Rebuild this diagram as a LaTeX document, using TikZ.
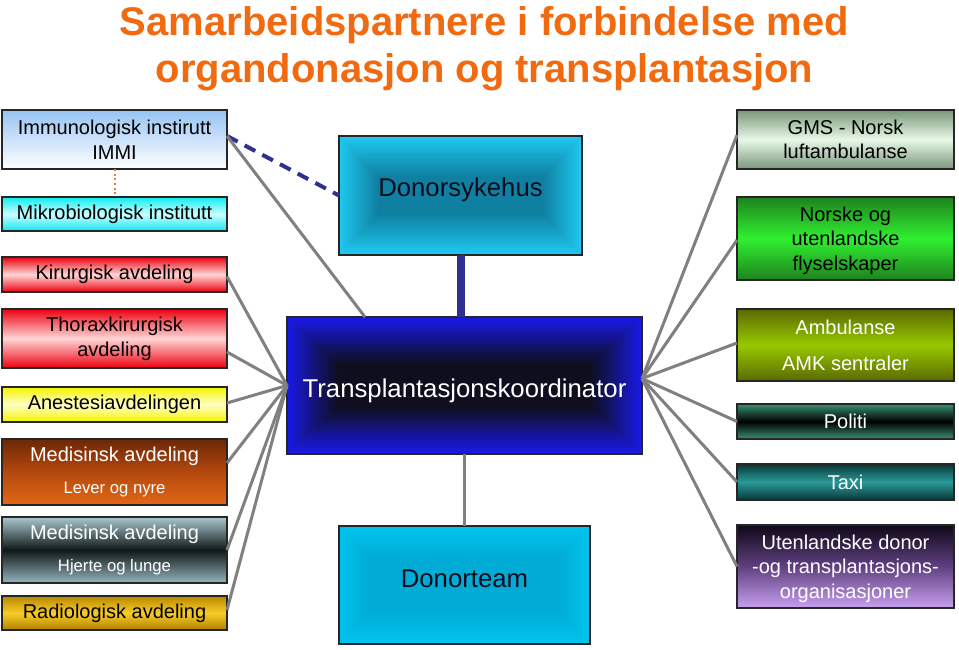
\documentclass[tikz,border=0pt]{standalone}
\usepackage{fontspec}
\setmainfont{Liberation Sans}
\usetikzlibrary{calc}
\definecolor{titleor}{RGB}{242,106,16}
\definecolor{linegray}{RGB}{128,128,128}
\definecolor{navy}{RGB}{48,48,144}
\definecolor{dotor}{RGB}{224,128,64}
\definecolor{dsout}{RGB}{30,200,240}
\definecolor{dsin}{RGB}{16,128,162}
\definecolor{dtout}{RGB}{0,196,238}
\definecolor{dtin}{RGB}{0,172,214}
\definecolor{trout}{RGB}{26,26,230}
\definecolor{trin}{RGB}{14,14,30}
\definecolor{boxtext}{RGB}{12,12,28}
\tikzset{
  nested/.style n args={4}{path picture={
    \foreach \k in {0,...,24}{
      \pgfmathsetmacro\fr{100*\k/24}
      \fill[#4!\fr!#3] ($(path picture bounding box.north west)+(\k*#1/24,\k*#2/24)$)
        rectangle ($(path picture bounding box.south east)-(\k*#1/24,\k*#2/24)$);
    }}},
  sidebox/.style={draw=black!85, line width=0.9pt, inner sep=0pt, outer sep=0pt,
    align=center, font=\fontsize{15}{18.5}\selectfont},
  lbox/.style={sidebox, minimum width=168.75pt},
  rbox/.style={sidebox, minimum width=162.75pt},
  cbox/.style={draw=black!85, line width=0.9pt, inner sep=0pt, outer sep=0pt,
    align=center, font=\fontsize{19.3}{23}\selectfont},
  conn/.style={draw=linegray, line width=2.25pt}
}
\begin{document}
\begin{tikzpicture}[x=0.75pt,y=-0.75pt]
\useasboundingbox (0,0) rectangle (959,649);

% title
\node[text=titleor, inner sep=0pt, align=center,
  font=\fontsize{30}{35.25}\bfseries\selectfont] (title) at (484.5,48.5)
  {Samarbeidspartnere i forbindelse med\\organdonasjon og transplantasjon};

% left column
\node[lbox, minimum height=44.25pt, top color={rgb,255:red,150;green,196;blue,242},
  bottom color=white, middle color={rgb,255:red,204;green,226;blue,250}] (immun) at (114.5,139.5)
  {Immunologisk instirutt\\IMMI};
\node[lbox, minimum height=25.5pt, top color={rgb,255:red,16;green,236;blue,240},
  bottom color={rgb,255:red,16;green,230;blue,240}, middle color={rgb,255:red,200;green,255;blue,255}] (mikro) at (114.5,214)
  {Mikrobiologisk institutt};
\node[lbox, minimum height=26.25pt, top color={rgb,255:red,236;green,0;blue,16},
  bottom color={rgb,255:red,236;green,0;blue,16}, middle color={rgb,255:red,255;green,214;blue,214}] (kir) at (114.5,274.5)
  {Kirurgisk avdeling};
\node[lbox, minimum height=44.25pt, top color={rgb,255:red,236;green,0;blue,16},
  bottom color={rgb,255:red,236;green,0;blue,16}, middle color={rgb,255:red,255;green,214;blue,214}] (thorax) at (114.5,338.5)
  {Thoraxkirurgisk\\avdeling};
\node[lbox, minimum height=26.25pt, top color={rgb,255:red,244;green,244;blue,0},
  bottom color={rgb,255:red,244;green,244;blue,0}, middle color={rgb,255:red,255;green,255;blue,196}] (anest) at (114.5,404.5)
  {Anestesiavdelingen};
\node[lbox, minimum height=49.5pt, text=white, top color={rgb,255:red,108;green,40;blue,6},
  bottom color={rgb,255:red,226;green,104;blue,22}, middle color={rgb,255:red,180;green,72;blue,14}] (medlev) at (114.5,472)
  {Medisinsk avdeling\\[5pt]{\fontsize{12.5}{15}\selectfont Lever og nyre}};
\node[lbox, minimum height=49.5pt, text=white, top color={rgb,255:red,170;green,200;blue,208},
  bottom color={rgb,255:red,150;green,180;blue,190}, middle color={rgb,255:red,16;green,24;blue,24}] (medhj) at (114.5,550)
  {Medisinsk avdeling\\[5pt]{\fontsize{12.5}{15}\selectfont Hjerte og lunge}};
\node[lbox, minimum height=25.5pt, top color={rgb,255:red,184;green,136;blue,0},
  bottom color={rgb,255:red,176;green,128;blue,0}, middle color={rgb,255:red,248;green,204;blue,40}] (radio) at (114.5,613)
  {Radiologisk avdeling};

% right column
\node[rbox, minimum height=44.25pt, top color={rgb,255:red,122;green,150;blue,122},
  bottom color={rgb,255:red,122;green,150;blue,122}, middle color={rgb,255:red,232;green,248;blue,232}] (gms) at (845.5,139.5)
  {GMS - Norsk\\luftambulanse};
\node[rbox, minimum height=62.25pt, text depth=0pt, top color={rgb,255:red,30;green,130;blue,30},
  bottom color={rgb,255:red,30;green,130;blue,30}, middle color={rgb,255:red,48;green,240;blue,48}] (fly) at (845.5,238.5)
  {Norske og\\utenlandske\\flyselskaper};
\node[rbox, minimum height=54pt, text=white, top color={rgb,255:red,90;green,106;blue,0},
  bottom color={rgb,255:red,90;green,106;blue,0}, middle color={rgb,255:red,152;green,200;blue,0}] (amb) at (845.5,345)
  {Ambulanse\\[8.5pt]AMK sentraler};
\node[rbox, minimum height=26.25pt, text=white, top color={rgb,255:red,58;green,144;blue,112},
  bottom color={rgb,255:red,58;green,144;blue,112}, middle color=black] (politi) at (845.5,421.5)
  {Politi};
\node[rbox, minimum height=27pt, text=white, top color={rgb,255:red,10;green,56;blue,56},
  bottom color={rgb,255:red,10;green,56;blue,56}, middle color={rgb,255:red,42;green,152;blue,152}] (taxi) at (845.5,482)
  {Taxi};
\node[rbox, minimum height=62.25pt, text depth=0pt, text=white, top color={rgb,255:red,16;green,8;blue,24},
  bottom color={rgb,255:red,200;green,160;blue,240}, middle color={rgb,255:red,96;green,64;blue,128}] (utl) at (845.5,566.5)
  {Utenlandske donor\\-og transplantasjons-\\organisasjoner};

% centre
\node[cbox, minimum width=182.25pt, minimum height=89.25pt, text=boxtext,
  text height=2.2pt, text depth=0pt,
  nested={38}{40}{dsout}{dsin}] (dsh) at (460.5,195.5) {Donorsykehus};
\node[cbox, minimum width=266.25pt, minimum height=102.75pt, text=white,
  text height=17.25pt, text depth=0pt,
  nested={50}{47}{trout}{trin}] (trans) at (464.5,385.5) {Transplantasjonskoordinator};
\node[cbox, minimum width=188.25pt, minimum height=88.5pt, text=boxtext,
  text height=3pt, text depth=0pt,
  nested={29}{32}{dtout}{dtin}] (dteam) at (464.5,585) {Donorteam};

% connectors
\draw[dotor, line width=1.5pt, dotted] (immun.south) -- (mikro.north);
\draw[navy, line width=3pt, dash pattern=on 9pt off 6pt] ($(immun.east)+(0,-3.5)$) -- (dsh.west);
\draw[conn] ($(immun.east)+(0,-3.5)$) -- ($(trans.north west)+(78,0)$);
\draw[navy, line width=6pt] (dsh.south) -- (dsh.south |- trans.north);
\draw[conn] (trans.south) -- (dteam.north);

\foreach \n/\o in {kir/2, thorax/13.5, anest/-1.5, medlev/-9, medhj/0, radio/-3}
  \draw[conn] ($(\n.east)+(0,\o)$) -- (trans.west);
\foreach \n/\o in {gms/-4.5, fly/1.5, amb/-2, politi/0, taxi/0, utl/0}
  \draw[conn] ($(\n.west)+(0,\o)$) -- ($(trans.east)+(0,-7)$);
\end{tikzpicture}
\end{document}
